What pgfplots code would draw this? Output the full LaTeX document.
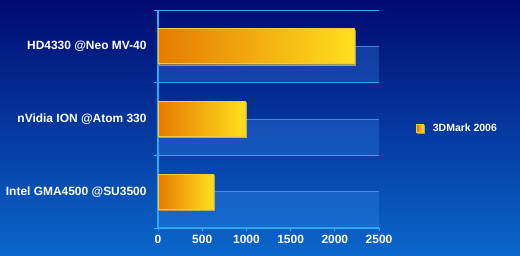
\documentclass[border=0pt]{standalone}
\usepackage{pgfplots}
\pgfplotsset{compat=1.18}
\usepackage{fontspec}
\setmainfont{Liberation Sans}
\usetikzlibrary{shadows}
\definecolor{bgtop}{HTML}{000A72}
\definecolor{bgbot}{HTML}{0A66CA}
\definecolor{axcol}{HTML}{22B0F0}
\definecolor{bandcol}{HTML}{3A8CF0}
\definecolor{barL}{HTML}{E67A00}
\definecolor{barR}{HTML}{FFE01E}
\definecolor{barEdge}{HTML}{F2CC3A}
\begin{document}
\begin{tikzpicture}[x=1bp,y=1bp]
\fill[top color=bgtop, bottom color=bgbot] (0,0) rectangle (520,255);
\begin{axis}[
  at={(158bp,27bp)}, anchor=south west,
  scale only axis, width=221bp, height=218bp,
  xmin=0, xmax=2500, ymin=-0.5, ymax=2.5,
  axis lines=left, axis line style={axcol, line width=1.2pt, -},
  xtick={0,500,1000,1500,2000,2500},
  ytick={0,1,2},
  yticklabels={Intel GMA4500 @SU3500, nVidia ION @Atom 330, HD4330 @Neo MV-40},
  minor ytick={-0.5,0.5,1.5,2.5},
  yminorgrids, minor grid style={axcol, line width=0.8pt},
  major tick length=3bp, minor tick length=4bp,
  every tick/.style={axcol, line width=1pt},
  major y tick style={draw=none},
  tick align=outside,
  xticklabel style={font=\bfseries\fontsize{12}{14}\selectfont, text=white, yshift=-0.5bp},
  yticklabel style={font=\bfseries\fontsize{12}{14}\selectfont, text=white, xshift=-5bp},
  /pgf/number format/assume math mode=true,
  /pgf/number format/set thousands separator={},
  clip=false,
  xbar, bar width=35bp, bar shift=0pt,
  legend style={at={(1.168,0.458)}, anchor=west, draw=none, fill=none, inner sep=0pt,
    text=white, font=\bfseries\fontsize{10.5}{12}\selectfont},
  legend image code/.code={\draw[barEdge, line width=0.4pt, left color=barL, right color=barR] (0bp,-4bp) rectangle (7bp,4bp); \path (14bp,0);},
]
% lighter bands in the lower half of each category
\fill[bandcol, opacity=0.3] (axis cs:0,-0.5) rectangle (axis cs:2500,0);
\fill[bandcol, opacity=0.3] (axis cs:0,0.5) rectangle (axis cs:2500,1);
\fill[bandcol, opacity=0.3] (axis cs:0,1.5) rectangle (axis cs:2500,2);
\draw[bandcol!80!white, line width=1pt, opacity=0.7] (axis cs:0,0) -- (axis cs:2500,0);
\draw[bandcol!80!white, line width=1pt, opacity=0.7] (axis cs:0,1) -- (axis cs:2500,1);
\draw[bandcol!80!white, line width=1pt, opacity=0.7] (axis cs:0,2) -- (axis cs:2500,2);
\pgfplotsset{barstyle/.style={draw=barEdge, line width=0.8pt,
  left color=barL, right color=barR,
  drop shadow={shadow xshift=1.2bp, shadow yshift=-1.2bp, opacity=0.45}}}
\addplot[barstyle] coordinates {(2220,2)};
\addlegendentry{3DMark 2006}
\addplot[barstyle, forget plot] coordinates {(990,1)};
\addplot[barstyle, forget plot] coordinates {(623,0)};
\end{axis}
\pgfresetboundingbox
\useasboundingbox (0,0) rectangle (520,255);
\end{tikzpicture}
\end{document}
